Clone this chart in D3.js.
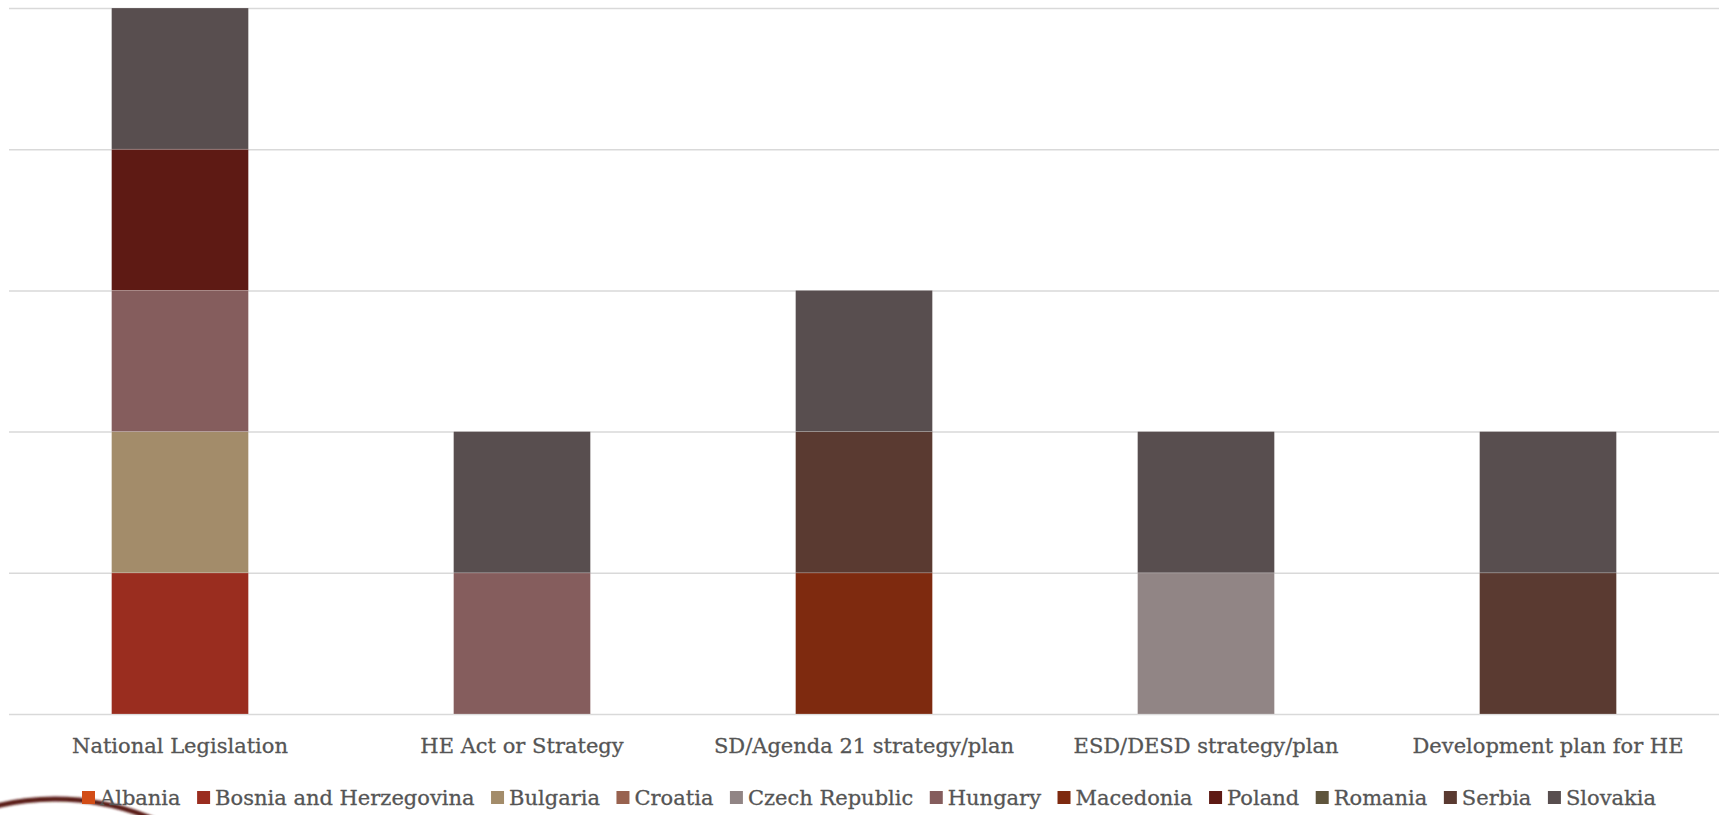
<!DOCTYPE html>
<html>
<head>
<meta charset="utf-8">
<script src="https://cdn.jsdelivr.net/npm/d3@7"></script>
<style>
  html, body { margin: 0; padding: 0; background: #ffffff; }
  svg { display: block; }
</style>
</head>
<body>
<svg id="chart" width="1725" height="815"></svg>
<script>
// Policy instruments per category, stacked by country
const categories = ["National Legislation", "HE Act or Strategy", "SD/Agenda 21 strategy/plan", "ESD/DESD strategy/plan", "Development plan for HE"];
const countries = ["Albania", "Bosnia and Herzegovina", "Bulgaria", "Croatia", "Czech Republic", "Hungary", "Macedonia", "Poland", "Romania", "Serbia", "Slovakia"];
const colors = ["#D24D17", "#9A2D1F", "#A38C6A", "#98624F", "#918585", "#855D5D", "#7E2A0F", "#5E1A14", "#5F553C", "#5A3A31", "#584E4F"];

// one value per category, in category order
const albania   = [0, 0, 0, 0, 0];
const bosnia    = [1, 0, 0, 0, 0];
const bulgaria  = [1, 0, 0, 0, 0];
const croatia   = [0, 0, 0, 0, 0];
const czech     = [0, 0, 0, 1, 0];
const hungary   = [1, 1, 0, 0, 0];
const macedonia = [0, 0, 1, 0, 0];
const poland    = [1, 0, 0, 0, 0];
const romania   = [0, 0, 0, 0, 0];
const serbia    = [0, 0, 1, 0, 1];
const slovakia  = [1, 1, 1, 1, 1];
const seriesValues = [albania, bosnia, bulgaria, croatia, czech, hungary, macedonia, poland, romania, serbia, slovakia];
const yTicks = [0, 1, 2, 3, 4, 5];

const svg = d3.select("#chart");
const plot = { left: 9, right: 1719, top: 8, bottom: 714 };
const FONT = "'DejaVu Serif', serif";
const TEXT_COLOR = "#555555";
const FONT_SIZE = "21px";

// table for d3.stack
const table = categories.map((c, i) => {
  const row = { category: c };
  countries.forEach((k, j) => { row[k] = seriesValues[j][i]; });
  return row;
});
const stacked = d3.stack().keys(countries)(table);

const x = d3.scaleBand().domain(categories).range([plot.left, plot.right]).paddingInner(0.6).paddingOuter(0.3);
const y = d3.scaleLinear().domain([0, 5]).range([plot.bottom, plot.top]);
const color = d3.scaleOrdinal().domain(countries).range(colors);

// decorative ring in the lower-left corner
const defs = svg.append("defs");
defs.append("filter").attr("id", "soft")
  .attr("x", "-20%").attr("y", "-20%").attr("width", "140%").attr("height", "140%")
  .append("feGaussianBlur").attr("stdDeviation", 0.8);
svg.append("circle")
  .attr("cx", 55).attr("cy", 1049).attr("r", 250)
  .attr("fill", "none").attr("stroke", "#5a1a16").attr("stroke-width", 5)
  .attr("filter", "url(#soft)");

// horizontal gridlines
const yAxis = d3.axisLeft(y).tickValues(yTicks).tickSize(-(plot.right - plot.left)).tickFormat("");
const gy = svg.append("g").attr("transform", `translate(${plot.left},0)`).call(yAxis);
gy.select(".domain").remove();
gy.selectAll(".tick line").attr("stroke", "#d9d9d9").attr("stroke-width", 1.5);

// stacked bars
svg.append("g").selectAll("g")
  .data(stacked)
  .join("g")
  .attr("fill", d => color(d.key))
  .selectAll("rect")
  .data(d => d.filter(s => s[1] - s[0] > 0))
  .join("rect")
  .attr("x", d => x(d.data.category))
  .attr("y", d => y(d[1]))
  .attr("width", x.bandwidth())
  .attr("height", d => y(d[0]) - y(d[1]))
  .attr("stroke", "rgba(255,255,255,0.25)")
  .attr("stroke-width", 0.75);

// category axis
const xAxis = d3.axisBottom(x).tickSize(0).tickPadding(0);
const gx = svg.append("g").attr("transform", `translate(0,${plot.bottom})`).call(xAxis);
gx.select(".domain").remove();
gx.selectAll(".tick text")
  .attr("y", 32)
  .attr("dy", "0.35em")
  .attr("fill", TEXT_COLOR)
  .attr("stroke", TEXT_COLOR)
  .attr("stroke-width", 0.3)
  .style("font-family", FONT)
  .style("font-size", FONT_SIZE);

// legend: one row, spread between the outer edges of the first and last entries
const legendLeft = 82, legendRight = 1656, legendY = 798;
const legend = svg.append("g");
const items = legend.selectAll("g").data(countries).join("g");
items.append("rect").attr("width", 13).attr("height", 13).attr("y", -7).attr("fill", d => color(d));
items.append("text")
  .attr("x", 18).attr("dy", "0.35em")
  .attr("fill", TEXT_COLOR)
  .attr("stroke", TEXT_COLOR)
  .attr("stroke-width", 0.3)
  .style("font-family", FONT)
  .style("font-size", FONT_SIZE)
  .text(d => d);
const widths = [];
items.each(function() { widths.push(18 + this.querySelector("text").getComputedTextLength()); });
const gap = Math.max(10, (legendRight - legendLeft - d3.sum(widths)) / (countries.length - 1));
let cursor = 0;
items.each(function(d, i) {
  d3.select(this).attr("transform", `translate(${cursor},0)`);
  cursor += widths[i] + gap;
});
const totalW = cursor - gap;
legend.attr("transform", `translate(${(legendLeft + legendRight) / 2 - totalW / 2},${legendY})`);
</script>
</body>
</html>
